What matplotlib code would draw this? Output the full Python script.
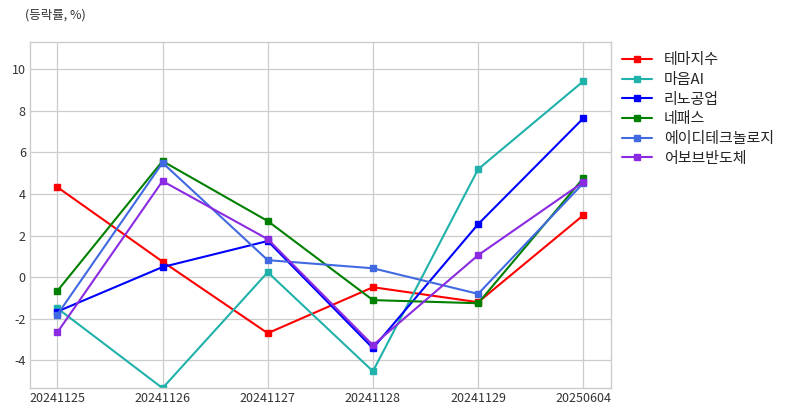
import matplotlib

matplotlib.use("Agg")

import matplotlib.pyplot as plt

plt.style.use("seaborn-v0_8-whitegrid")
plt.rcParams["font.family"] = ["Noto Sans CJK KR", "DejaVu Sans"]
plt.rcParams["axes.unicode_minus"] = False

dates = ["20241125", "20241126", "20241127", "20241128", "20241129", "20250604"]

theme_index = [4.33, 0.75, -2.69, -0.48, -1.2, 2.98]
maeum_ai = [-1.49, -5.33, 0.24, -4.52, 5.19, 9.42]
leeno = [-1.65, 0.49, 1.74, -3.41, 2.55, 7.64]
nepes = [-0.66, 5.58, 2.7, -1.1, -1.25, 4.76]
adtech = [-1.8, 5.5, 0.82, 0.43, -0.8, 4.52]
abov = [-2.65, 4.62, 1.83, -3.27, 1.06, 4.57]

series = {
    "테마지수": (theme_index, "red"),
    "마음AI": (maeum_ai, "lightseagreen"),
    "리노공업": (leeno, "blue"),
    "네패스": (nepes, "green"),
    "에이디테크놀로지": (adtech, "royalblue"),
    "어보브반도체": (abov, "blueviolet"),
}

fig = plt.figure(figsize=(7.89, 4.16), dpi=100)
ax = fig.add_axes([0.038, 0.067, 0.736, 0.832])

for name, (values, color) in series.items():
    ax.plot(dates, values, color=color, marker="s", markersize=4.5, linewidth=1.5, label=name)

all_values = [v for values, _ in series.values() for v in values]
ax.set_ylim(min(all_values), max(all_values) * 1.2)
ax.set_xlim(-0.26, 5.26)

ax.grid(True, color="#cccccc", linewidth=0.9)
for spine in ax.spines.values():
    spine.set_visible(True)
    spine.set_color("#cccccc")
ax.tick_params(axis="both", labelsize=9, colors="#333333", length=0, pad=3)

ax.legend(loc="upper left", bbox_to_anchor=(1.01, 0.985), borderaxespad=0, frameon=False,
          fontsize=10.8, handlelength=2.0, handletextpad=0.75, labelspacing=0.38)
fig.text(0.032, 0.963, "(등락률, %)", fontsize=9, color="#333333", va="center")

fig.savefig("out.png", dpi=100)
plt.close(fig)
